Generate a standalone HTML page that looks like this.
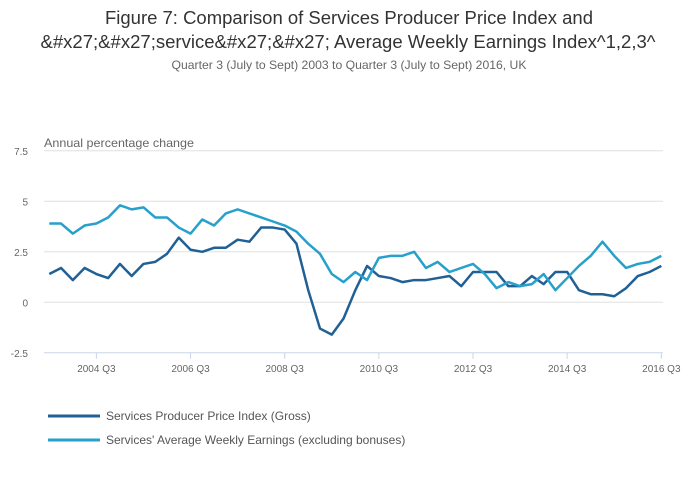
<!DOCTYPE html>
<html><head><meta charset="utf-8"><style>
html,body{margin:0;padding:0;background:#fff;}
svg{display:block;font-family:"Liberation Sans",sans-serif;}
</style></head><body>
<svg id="chart" width="700" height="502">
<text x="349" y="24" text-anchor="middle" font-size="18" fill="#333" textLength="488" lengthAdjust="spacingAndGlyphs">Figure 7: Comparison of Services Producer Price Index and</text>
<text x="348" y="48" text-anchor="middle" font-size="18" fill="#333" textLength="615" lengthAdjust="spacingAndGlyphs">&amp;#x27;&amp;#x27;service&amp;#x27;&amp;#x27; Average Weekly Earnings Index^1,2,3^</text>
<text x="349" y="69" text-anchor="middle" font-size="12" fill="#666" textLength="355" lengthAdjust="spacingAndGlyphs">Quarter 3 (July to Sept) 2003 to Quarter 3 (July to Sept) 2016, UK</text>
<text x="44" y="147" font-size="12" fill="#666" textLength="150" lengthAdjust="spacingAndGlyphs">Annual percentage change</text>
<g id="grid"></g>
<g id="series"></g>
<g id="legend"></g>
</svg>
<script>
const categories = [];
for (let y = 2003, q = 3; categories.length < 53; ) { categories.push(y + ' Q' + q); q++; if (q > 4) { q = 1; y++; } }
const sppi = [1.4,1.7,1.1,1.7,1.4,1.2,1.9,1.3,1.9,2.0,2.4,3.2,2.6,2.5,2.7,2.7,3.1,3.0,3.7,3.7,3.6,2.9,0.6,-1.3,-1.6,-0.8,0.6,1.8,1.3,1.2,1.0,1.1,1.1,1.2,1.3,0.8,1.5,1.5,1.5,0.8,0.8,1.3,0.9,1.5,1.5,0.6,0.4,0.4,0.3,0.7,1.3,1.5,1.8];
const awe = [3.9,3.9,3.4,3.8,3.9,4.2,4.8,4.6,4.7,4.2,4.2,3.7,3.4,4.1,3.8,4.4,4.6,4.4,4.2,4.0,3.8,3.5,2.9,2.4,1.4,1.0,1.5,1.1,2.2,2.3,2.3,2.5,1.7,2.0,1.5,1.7,1.9,1.4,0.7,1.0,0.8,0.9,1.4,0.6,1.2,1.8,2.3,3.0,2.3,1.7,1.9,2.0,2.3];
const yTicks = [7.5, 5, 2.5, 0, -2.5];
const yTickLabels = ['7.5','5','2.5','0','-2.5'];
const xTickLabels = ['2004 Q3','2006 Q3','2008 Q3','2010 Q3','2012 Q3','2014 Q3','2016 Q3'];
const seriesNames = ['Services Producer Price Index (Gross)', "Services' Average Weekly Earnings (excluding bonuses)"];

const NS = 'http://www.w3.org/2000/svg';
const x0 = 49.3, step = 11.77;
const xScale = i => x0 + i * step;
const yScale = v => 302.3 - v * 20.2;
function mk(tag, attrs, parent){const e=document.createElementNS(NS,tag);for(const k in attrs)e.setAttribute(k,attrs[k]);parent.appendChild(e);return e;}
const grid = document.getElementById('grid');
yTicks.forEach((v,i)=>{
  if (v !== -2.5) {
    const l = mk('line',{x1:44,x2:663,y1:yScale(v),y2:yScale(v),stroke:'#e0e0e0','stroke-width':1},grid);
    
    
  }
  const t = mk('text',{x:28,y:yScale(v)+4,'text-anchor':'end','font-size':10,fill:'#666'},grid);
  t.textContent = yTickLabels[i];
  
  
});
const ax = mk('line',{x1:44,x2:663,y1:yScale(-2.5),y2:yScale(-2.5),stroke:'#c8d6e8','stroke-width':1},grid);


xTickLabels.forEach(lbl=>{
  const i = categories.indexOf(lbl);
  const x = xScale(i);
  const tk = mk('line',{x1:x,x2:x,y1:yScale(-2.5),y2:yScale(-2.5)+6,stroke:'#c8d6e8'},grid);
  
  
  const t = mk('text',{x:x,y:372,'text-anchor':'middle','font-size':10,fill:'#666'},grid);
  t.textContent = lbl;
  
  
});
const colors = ['#206095','#27a0cc'];
const ser = document.getElementById('series');
[sppi, awe].forEach((d,s)=>{
  const p = mk('polyline',{points:d.map((v,i)=>xScale(i)+','+yScale(v)).join(' '),fill:'none',stroke:colors[s],'stroke-width':2.5,'stroke-linejoin':'round'},ser);
  
  
});
const leg = document.getElementById('legend');
seriesNames.forEach((n,s)=>{
  const y = 416 + s*24;
  const g = mk('g',{},leg);
  
  
  mk('line',{x1:48,x2:100,y1:y,y2:y,stroke:colors[s],'stroke-width':3},g);
  const t = mk('text',{x:106,y:y+4,'font-size':12,fill:'#555'},g);
  t.textContent = n;
});
</script>
</body></html>
